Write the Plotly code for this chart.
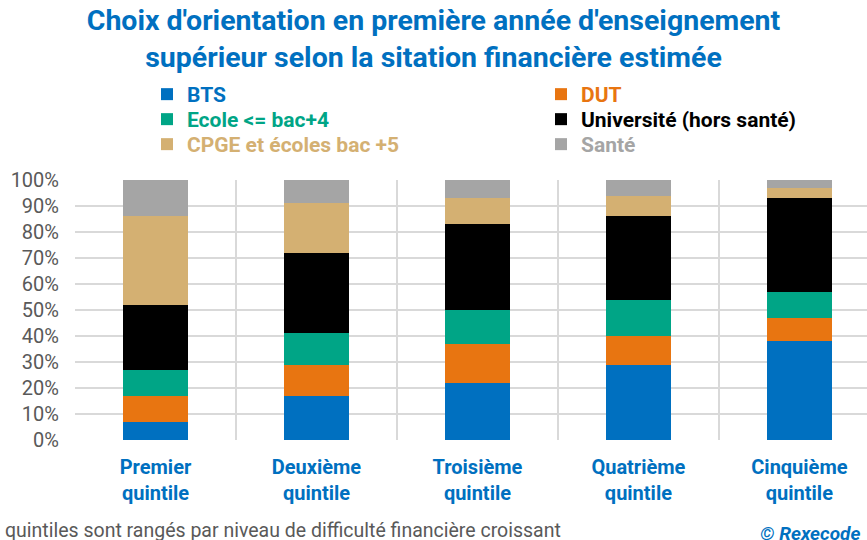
import plotly.graph_objects as go

categories = ["Premier<br>quintile", "Deuxième<br>quintile", "Troisième<br>quintile",
              "Quatrième<br>quintile", "Cinquième<br>quintile"]
bts = [0.07, 0.17, 0.22, 0.29, 0.38]
dut = [0.10, 0.12, 0.15, 0.11, 0.09]
ecole = [0.10, 0.12, 0.13, 0.14, 0.10]
universite = [0.25, 0.31, 0.33, 0.32, 0.36]
cpge = [0.34, 0.19, 0.10, 0.08, 0.04]
sante = [0.14, 0.09, 0.07, 0.06, 0.03]

series_names = ["BTS", "DUT", "Ecole &lt;= bac+4", "Université (hors santé)",
                "CPGE et écoles bac +5", "Santé"]
series_values = [bts, dut, ecole, universite, cpge, sante]
series_colors = ["#0070c0", "#e87511", "#00a586", "#000000", "#d4b072", "#a5a5a5"]

FONT = "Roboto, Arial"
BLUE = "#0070c0"
ML, MT, PW, PH = 75, 180, 792, 260

# legend slot (column x px, row top px) for each series
leg_x = [147, 541, 147, 541, 147, 541]
leg_y = [74, 74, 99, 99, 124, 124]

fig = go.Figure()
legends = {}
for i, (name, vals, color) in enumerate(zip(series_names, series_values, series_colors)):
    lid = "legend" if i == 0 else f"legend{i + 1}"
    fig.add_trace(go.Bar(
        x=categories, y=vals,
        name=f"<span style='color:{color}'><b>{name}</b></span>",
        marker=dict(color=color, line=dict(width=0)),
        width=0.4,
        legend=lid,
    ))
    legends[lid] = dict(
        orientation="v",
        xref="paper", x=(leg_x[i] - ML) / PW, xanchor="left",
        yref="paper", y=1 + (MT - leg_y[i]) / PH, yanchor="top",
        font=dict(size=21, family=FONT),
        itemwidth=30, bgcolor="rgba(0,0,0,0)",
    )

fig.update_layout(
    barmode="stack",
    width=867, height=540,
    margin=dict(l=ML, r=0, t=MT, b=100, autoexpand=False),
    paper_bgcolor="white", plot_bgcolor="white",
    font=dict(family=FONT),
    title=dict(
        text="<b>Choix d'orientation en première année d'enseignement<br>supérieur selon la sitation financière estimée</b>",
        x=0.5, xanchor="center", xref="container",
        y=1 - 30 / 540, yanchor="middle", yref="container",
        font=dict(size=28.5, color=BLUE, family=FONT),
    ),
    showlegend=True,
    **legends,
)

fig.update_xaxes(
    tickson="boundaries", showgrid=True, gridcolor="#d9d9d9", gridwidth=2,
    range=[-0.5, 4.42], ticks="", showline=False,
    tickfont=dict(size=20, color=BLUE, family=FONT),
    zeroline=False, tickangle=0, ticklabelstandoff=13,
    tickvals=categories,
    ticktext=[f"<b>{c}</b>" for c in categories],
)
fig.update_yaxes(
    range=[0, 1.0], dtick=0.1, tickformat=".0%",
    showgrid=True, gridcolor="#d9d9d9", gridwidth=2,
    tickfont=dict(size=20, color="#595959", family=FONT),
    zeroline=False, showline=False, ticks="", ticklabelstandoff=15,
)

fig.add_annotation(
    text="quintiles sont rangés par niveau de difficulté financière croissant",
    xref="paper", yref="paper", x=(3 - ML) / PW, y=-90 / PH,
    xanchor="left", yanchor="middle", showarrow=False,
    font=dict(size=19.5, color="#595959", family=FONT),
)
fig.add_annotation(
    text="<b><i>© Rexecode</i></b>",
    xref="paper", yref="paper", x=(758 - ML) / PW, y=-93 / PH,
    xanchor="left", yanchor="middle", showarrow=False,
    font=dict(size=19, color=BLUE, family=FONT),
)

fig.write_html("out.html", config={"displayModeBar": False},
               post_script="document.body.style.margin='0';")
